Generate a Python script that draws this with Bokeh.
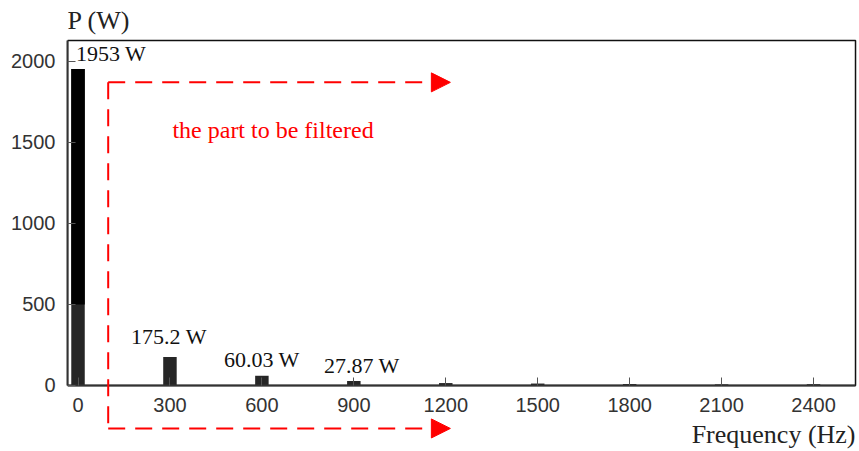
from bokeh.plotting import figure
from bokeh.models import Range1d, Label, Arrow, NormalHead, FixedTicker, BoxAnnotation
from bokeh.embed import file_html
from bokeh.resources import INLINE

# ---- data ----
freqs = [0, 300, 600, 900, 1200, 1500, 1800, 2100, 2400]
powers = [1953, 175.2, 60.03, 27.87, 15, 12, 9, 7, 8]
value_labels = ["1953 W", "175.2 W", "60.03 W", "27.87 W"]
x_ticks = [0, 300, 600, 900, 1200, 1500, 1800, 2100, 2400]
y_ticks = [0, 500, 1000, 1500, 2000]
dc_split = 500  # lower part of the DC bar is drawn in dark grey
annotation_text = "the part to be filtered"
x_title = "Frequency (Hz)"
y_title = "P (W)"

SERIF = "Liberation Serif"
SANS = "Liberation Sans"

# plotting box (axes rectangle) in data units
box_l, box_r, box_b, box_t = -34.3, 2537, 0, 2128

p = figure(width=859, height=451, output_backend="svg", toolbar_location=None,
           x_range=Range1d(-34.3, 2550), y_range=Range1d(-407.2, 2375.1),
           min_border_left=67, min_border_right=0, min_border_top=0,
           min_border_bottom=0)
p.background_fill_color = "white"
p.border_fill_color = "white"
p.outline_line_color = None
p.xgrid.visible = False
p.ygrid.visible = False

bar_w = 44
p.vbar(x=freqs, top=powers, width=bar_w, bottom=0, fill_color="#262626", line_color=None)
p.vbar(x=freqs[:1], top=powers[:1], bottom=dc_split, width=bar_w, fill_color="black", line_color=None)

# frame box of the axes
p.add_layout(BoxAnnotation(left=box_l, right=box_r, bottom=box_b, top=box_t,
                           fill_alpha=0, line_alpha=1, line_color="#111111", line_width=1.5,
                           level="underlay"))

p.xaxis.fixed_location = 0
for ax, ticks, bnds in ((p.xaxis[0], x_ticks, (box_l, box_r)), (p.yaxis[0], y_ticks, (box_b, box_t))):
    ax.ticker = FixedTicker(ticks=ticks)
    ax.bounds = bnds
    ax.minor_tick_line_color = None
    ax.major_tick_in = 8
    ax.major_tick_out = 0
    ax.major_tick_line_color = "#555555"
    ax.major_label_text_font = SANS
    ax.major_label_text_font_size = "20px"
    ax.major_label_text_color = "#333333"
    ax.axis_line_color = "#333333"
    ax.axis_line_width = 2
p.xaxis.major_label_standoff = 13
p.yaxis.major_label_standoff = 12

# value labels above bars
lab_align = ["left", "center", "center", "center"]
lab_dx = [-2, -1, 0, 8]
lab_dy = [15.5, 20.5, 16, 15]
for i, txt in enumerate(value_labels):
    p.add_layout(Label(x=freqs[i], y=powers[i], text=txt, text_align=lab_align[i],
                       text_baseline="alphabetic", x_offset=lab_dx[i], y_offset=lab_dy[i],
                       text_font=SERIF, text_font_size="22px", text_color="#111111"))

# red annotation text
p.add_layout(Label(x=308, y=1523, y_offset=9, text=annotation_text, text_align="left",
                   text_baseline="alphabetic", text_font=SERIF, text_font_size="24px",
                   text_color="#ff0000"))

# red dashed arrows
red = "#ff0000"
x_start, x_tip = 98.5, 1215
y_top, y_bot = 1870, -265
p.add_layout(Arrow(x_start=x_start, y_start=y_top, x_end=x_start, y_end=y_bot, start=None, end=None,
                   line_color=red, line_width=2, line_dash="17 10"))
for yy in (y_top, y_bot):
    p.add_layout(Arrow(x_start=x_start, y_start=yy, x_end=x_tip, y_end=yy, start=None,
                       end=NormalHead(size=19, fill_color=red, line_color=red),
                       line_color=red, line_width=2, line_dash="17 10"))

# axis titles
p.add_layout(Label(x=box_l, y=2194, y_offset=9, text=y_title, text_align="left",
                   text_baseline="alphabetic", text_font=SERIF, text_font_size="26px",
                   text_color="#222222"))
p.add_layout(Label(x=box_r, y=-358, y_offset=9, text=x_title, text_align="right",
                   text_baseline="alphabetic", text_font=SERIF, text_font_size="26px",
                   text_color="#222222"))

open("out.html", "w").write(file_html(p, INLINE))
